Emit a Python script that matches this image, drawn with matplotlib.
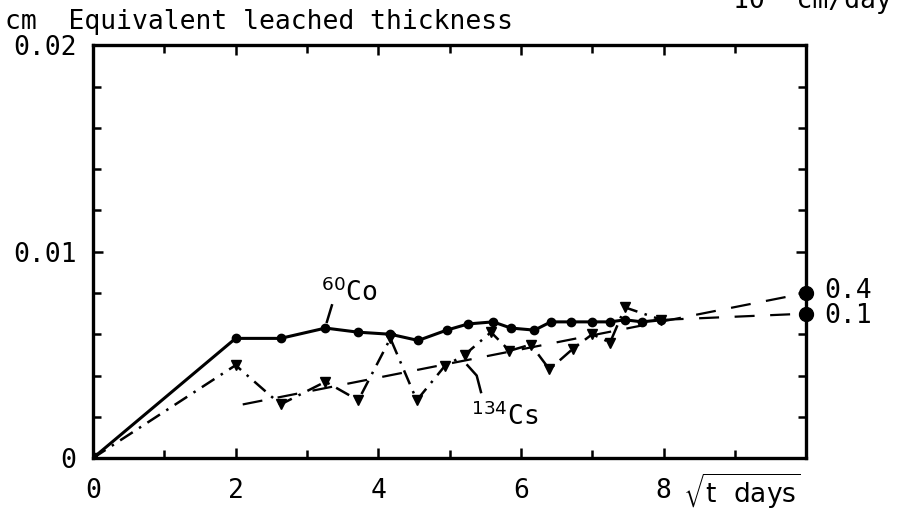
import matplotlib
matplotlib.use("Agg")
import matplotlib.pyplot as plt
from matplotlib.ticker import MultipleLocator

plt.rcParams['font.family'] = ['DejaVu Sans Mono', 'DejaVu Sans']
plt.rcParams['mathtext.fontset'] = 'dejavusans'

# 60Co (solid, round markers)
co_t = [0, 2.0, 2.63, 3.26, 3.72, 4.17, 4.56, 4.96, 5.26, 5.61, 5.86, 6.19,
        6.42, 6.70, 7.0, 7.25, 7.46, 7.7, 7.97]
co_v = [0, 0.0058, 0.0058, 0.0063, 0.0061, 0.0060, 0.0057, 0.0062, 0.0065,
        0.0066, 0.0063, 0.0062, 0.0066, 0.0066, 0.0066, 0.0066, 0.0067,
        0.0066, 0.0067]

# 134Cs (dash-dot, triangle markers)
cs_t = [0, 2.0, 2.63, 3.26, 3.72, 4.17, 4.54, 4.93, 5.21, 5.58, 5.84, 6.14,
        6.40, 6.73, 7.0, 7.25, 7.46, 7.97]
cs_v = [0, 0.00450, 0.0026, 0.0037, 0.0028, 0.0058, 0.0028, 0.00445, 0.0050,
        0.0061, 0.0052, 0.0055, 0.0043, 0.0053, 0.0060, 0.0056, 0.0073,
        0.0067]

# extrapolated fits to sqrt(t) = 10
fit_hi_t = [2.1, 10.0]
fit_hi_v = [0.0026, 0.0080]
fit_lo_t = [8.0, 10.0]
fit_lo_v = [0.0067, 0.0070]
fit_labels = ["0.4", "0.1"]

fs = 19

fig = plt.figure(figsize=(9.11, 5.2), dpi=100)
ax = fig.add_axes([0.102, 0.119, 0.783, 0.794])

ax.plot(co_t, co_v, color='black', lw=2.2, marker='o', ms=6)
ax.plot(cs_t, cs_v, color='black', lw=1.8, ls=(0, (6, 3, 1, 3)),
        marker='v', ms=7)
ax.plot(fit_hi_t, fit_hi_v, color='black', lw=1.6, ls=(0, (9, 7)))
ax.plot(fit_lo_t, fit_lo_v, color='black', lw=1.6, ls=(0, (9, 7)))
ax.plot([fit_hi_t[-1], fit_lo_t[-1]], [fit_hi_v[-1], fit_lo_v[-1]], 'o',
        color='black', ms=10, clip_on=False, zorder=5)

for lab, yv in zip(fit_labels, [fit_hi_v[-1] + 0.0001, fit_lo_v[-1] - 0.0001]):
    ax.text(10.25, yv, lab, fontsize=fs, va='center', ha='left')

# curve labels with leader lines
ax.text(3.2, 0.0073, r"$^{60}$Co", fontsize=fs, ha='left', va='bottom')
ax.plot([3.35, 3.28], [0.0074, 0.0066], color='black', lw=1.8)
ax.text(5.3, 0.0013, r"$^{134}$Cs", fontsize=fs, ha='left', va='bottom')
ax.plot([5.25, 5.38, 5.44], [0.0045, 0.0040, 0.0032], color='black', lw=1.8)

ax.set_xlim(0, 10)
ax.set_ylim(0, 0.02)
ax.set_xticks([0, 2, 4, 6, 8])
ax.xaxis.set_minor_locator(MultipleLocator(1))
ax.set_yticks([0, 0.01, 0.02])
ax.set_yticklabels(["0", "0.01", "0.02"])
ax.yaxis.set_minor_locator(MultipleLocator(0.002))
ax.tick_params(which='both', direction='in', top=True, right=True,
               width=1.8, labelsize=fs)
ax.tick_params(which='major', length=7, pad=12)
ax.tick_params(which='minor', length=6)
ax.tick_params(axis='x', which='major', pad=14)
for s in ax.spines.values():
    s.set_linewidth(2.4)

fig.text(0.750, 0.055, r"$\sqrt{\mathrm{t\ \ days}}$", fontsize=fs,
         ha='left', va='center')

fig.text(0.005, 0.958, "cm  Equivalent leached thickness", fontsize=fs,
         va='center', ha='left')
fig.text(0.805, 0.985, "10  cm/day", fontsize=fs, va='baseline', ha='left')

fig.savefig("out.png", dpi=100, facecolor='white')
